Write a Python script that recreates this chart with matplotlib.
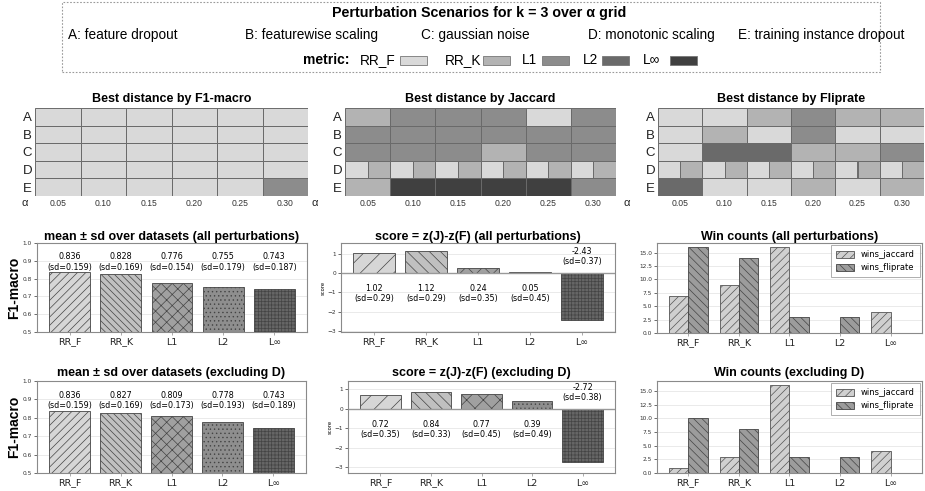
import numpy as np
import matplotlib
matplotlib.use('Agg')
import matplotlib.pyplot as plt
from matplotlib.patches import Rectangle

# ---------------- data ----------------
metrics = ['RR_F', 'RR_K', 'L1', 'L2', 'L∞']
scenario_keys = ['A', 'B', 'C', 'D', 'E']
scenario_names = ['feature dropout', 'featurewise scaling', 'gaussian noise',
                  'monotonic scaling', 'training instance dropout']
alphas = ['0.05', '0.10', '0.15', '0.20', '0.25', '0.30']

# best metric per (scenario, alpha); "X/Y" = tie drawn as split cell
best_f1 = [
    ['RR_F', 'RR_F', 'RR_F', 'RR_F', 'RR_F', 'RR_F'],
    ['RR_F', 'RR_F', 'RR_F', 'RR_F', 'RR_F', 'RR_F'],
    ['RR_F', 'RR_F', 'RR_F', 'RR_F', 'RR_F', 'RR_F'],
    ['RR_F', 'RR_F', 'RR_F', 'RR_F', 'RR_F', 'RR_F'],
    ['RR_F', 'RR_F', 'RR_F', 'RR_F', 'RR_F', 'L1'],
]
best_jaccard = [
    ['RR_K', 'L1', 'L1', 'L1', 'RR_F', 'L1'],
    ['L1', 'L1', 'L1', 'L1', 'L1', 'L1'],
    ['L1', 'L1', 'L1', 'RR_K', 'L1', 'L1'],
    ['RR_F/RR_K'] * 6,
    ['RR_K', 'L∞', 'L∞', 'L∞', 'L∞', 'L1'],
]
best_fliprate = [
    ['RR_F', 'RR_F', 'RR_K', 'L1', 'RR_K', 'RR_K'],
    ['RR_F', 'RR_K', 'RR_F', 'L1', 'RR_F', 'RR_F'],
    ['RR_F', 'L2', 'L2', 'RR_K', 'RR_K', 'L1'],
    ['RR_F/RR_K'] * 6,
    ['L2', 'RR_F', 'RR_F', 'RR_K', 'RR_F', 'RR_K'],
]

f1_mean_all = [0.836, 0.828, 0.776, 0.755, 0.743]
f1_sd_all = [0.159, 0.169, 0.154, 0.179, 0.187]
f1_mean_exD = [0.836, 0.827, 0.809, 0.778, 0.743]
f1_sd_exD = [0.159, 0.169, 0.173, 0.193, 0.189]

score_all = [1.02, 1.12, 0.24, 0.05, -2.43]
score_sd_all = [0.29, 0.29, 0.35, 0.45, 0.37]
score_exD = [0.72, 0.84, 0.77, 0.39, -2.72]
score_sd_exD = [0.35, 0.33, 0.45, 0.49, 0.38]

wins_jaccard_all = [7, 9, 16, 0, 4]
wins_fliprate_all = [16, 14, 3, 3, 0]
wins_jaccard_exD = [1, 3, 16, 0, 4]
wins_fliprate_exD = [10, 8, 3, 3, 0]

# ---------------- style ----------------
metric_colors = ['#d9d9d9', '#b3b3b3', '#8c8c8c', '#6a6a6a', '#404040']
bar_colors = ['#d6d6d6', '#c0c0c0', '#a0a0a0', '#8e8e8e', '#666666']
f1_hatches = ['////', '\\' * 5, 'xxx', '....', '+++++']
score_hatches = ['//', '\\' * 3, 'xx', '....', '+++++']

plt.rcParams['font.family'] = ['Liberation Sans', 'DejaVu Sans']
plt.rcParams['hatch.linewidth'] = 0.5

W, H = 925, 491
fig = plt.figure(figsize=(W / 100, H / 100), dpi=100)


def fx(px):
    return px / W


def fy(py):
    return 1 - py / H


def add_ax(x0, y0, x1, y1):
    return fig.add_axes([fx(x0), fy(y1), (x1 - x0) / W, (y1 - y0) / H])


# ---------------- header ----------------
fig.patches.append(Rectangle((fx(62), fy(72)), (880 - 62) / W, 70 / H,
                             transform=fig.transFigure, fill=False,
                             ec='#9a9a9a', lw=0.8, ls=(0, (1.5, 1.5))))
fig.text(fx(479), fy(13), 'Perturbation Scenarios for k = 3 over α grid',
         ha='center', va='center', fontsize=10.3, fontweight='bold')
scen_x = [68, 245, 421, 588, 738]
for k, name, xp in zip(scenario_keys, scenario_names, scen_x):
    fig.text(fx(xp), fy(35), f'{k}: {name}', ha='left', va='center', fontsize=9.8)

fig.text(fx(350), fy(60), 'metric:', ha='right', va='center', fontsize=10,
         fontweight='bold')
leg_text_x = [360, 445, 522, 583, 643]
leg_patch_x = [400, 483, 542, 602, 670]
for m, c, tx, px in zip(metrics, metric_colors, leg_text_x, leg_patch_x):
    fig.text(fx(tx), fy(60), m, ha='left', va='center', fontsize=9.8)
    fig.patches.append(Rectangle((fx(px), fy(65)), 27 / W, 9 / H,
                                 transform=fig.transFigure, fc=c,
                                 ec='#777777', lw=0.6))

# ---------------- heatmaps ----------------
heat_specs = [
    (best_f1, 'Best distance by F1-macro', (35, 108, 308, 196), 25),
    (best_jaccard, 'Best distance by Jaccard', (345, 108, 616, 196), 315),
    (best_fliprate, 'Best distance by Fliprate', (658, 108, 924, 196), 627),
]
for grid, title, box, alpha_x in heat_specs:
    ax = add_ax(*box)
    for r, row in enumerate(grid):
        for c, cell in enumerate(row):
            parts = cell.split('/')
            w = 1 / len(parts)
            for k, p in enumerate(parts):
                ax.barh(r, w, left=c + k * w, height=1,
                        color=metric_colors[metrics.index(p)],
                        edgecolor='#6a6a6a', linewidth=0.7)
    ax.set_xlim(0, len(alphas))
    ax.set_ylim(len(scenario_keys) - 0.5, -0.5)
    ax.set_xticks(np.arange(len(alphas)) + 0.5)
    ax.set_xticklabels(alphas, fontsize=6.2, color='#333333')
    ax.set_yticks(np.arange(len(scenario_keys)))
    ax.set_yticklabels(scenario_keys, fontsize=9.5, color='#222222')
    ax.tick_params(length=0, pad=2)
    for s in ax.spines.values():
        s.set_visible(False)
    ax.set_title(title, fontsize=9, fontweight='bold', pad=4)
    fig.text(fx(alpha_x), fy(203), 'α', ha='center', va='center', fontsize=8,
             color='#222222')


def style_bar_axes(ax):
    for s in ax.spines.values():
        s.set_color('#8a8a8a')
        s.set_linewidth(0.8)
    ax.set_axisbelow(True)
    ax.yaxis.grid(True, color='#e6e6e6', linewidth=0.6)
    ax.tick_params(axis='y', labelsize=4.2, length=2, width=0.5, pad=1.5,
                   colors='#333333')
    ax.tick_params(axis='x', length=2, width=0.5, pad=2, colors='#888888')
    for lab in ax.get_xticklabels():
        lab.set_color('#222222')
        lab.set_fontsize(6.8)
        lab.set_family('DejaVu Sans')
    for lab in ax.get_yticklabels():
        lab.set_family('DejaVu Sans')


def f1_panel(box, means, sds, title, title_pad):
    ax = add_ax(*box)
    x = np.arange(len(metrics))
    bars = ax.bar(x, means, 0.8, color=bar_colors, edgecolor='#444444',
                  linewidth=0.6)
    for b, h in zip(bars, f1_hatches):
        b.set_hatch(h)
    ax.set_ylim(0.5, 1.0)
    ax.set_xticks(x)
    ax.set_xticklabels(metrics)
    for i, (m, s) in enumerate(zip(means, sds)):
        ax.text(i, 0.893, f'{m:.3f}\n(sd={s:.3f})', ha='center', va='center',
                fontsize=5.8, family='DejaVu Sans', linespacing=1.2)
    style_bar_axes(ax)
    ax.set_ylabel('F1-macro', fontsize=10, fontweight='bold')
    ax.yaxis.set_label_coords(-0.06, 0.5)
    ax.set_title(title, fontsize=9, fontweight='bold', pad=title_pad)
    return ax


def score_panel(box, vals, sds, title, ylim, title_pad, lab_x):
    ax = add_ax(*box)
    x = np.arange(len(metrics))
    bars = ax.bar(x, vals, 0.8, color=bar_colors, edgecolor='#444444',
                  linewidth=0.6)
    for b, h in zip(bars, score_hatches):
        b.set_hatch(h)
    ax.axhline(0, color='#999999', linewidth=1.0, zorder=1.5)
    ax.set_ylim(*ylim)
    ax.set_yticks([-3, -2, -1, 0, 1])
    ax.set_xticks(x)
    ax.set_xticklabels(metrics)
    for i, (v, s) in enumerate(zip(vals, sds)):
        if v >= 0:
            ax.annotate(f'{v:.2f}\n(sd={s:.2f})', (i, 0), xytext=(0, -8),
                        textcoords='offset points', ha='center', va='top',
                        fontsize=5.8, family='DejaVu Sans', linespacing=1.15)
        else:
            ax.annotate(f'{v:.2f}\n(sd={s:.2f})', (i, 0), xytext=(0, 5),
                        textcoords='offset points', ha='center', va='bottom',
                        fontsize=5.8, family='DejaVu Sans', linespacing=1.15)
    style_bar_axes(ax)
    ax.set_ylabel('score', fontsize=3.8, family='DejaVu Sans')
    ax.yaxis.set_label_coords(lab_x, 0.5)
    ax.set_title(title, fontsize=9, fontweight='bold', pad=title_pad)
    return ax


def wins_panel(box, jac, flip, title, title_pad):
    ax = add_ax(*box)
    x = np.arange(len(metrics))
    w = 0.38
    ax.bar(x - w / 2, jac, w, color='#d0d0d0', edgecolor='#555555',
           linewidth=0.6, hatch='////', label='wins_jaccard')
    ax.bar(x + w / 2, flip, w, color='#9c9c9c', edgecolor='#444444',
           linewidth=0.6, hatch='\\' * 4, label='wins_fliprate')
    ax.set_ylim(0, 16.8)
    ax.set_yticks([0, 2.5, 5, 7.5, 10, 12.5, 15])
    ax.set_xticks(x)
    ax.set_xticklabels(metrics)
    style_bar_axes(ax)
    leg = ax.legend(loc='upper right', frameon=True,
                    handlelength=2.2, handleheight=0.9, borderpad=0.6,
                    labelspacing=0.5, fancybox=False, borderaxespad=0.25,
                    prop={'family': 'DejaVu Sans', 'size': 6})
    leg.get_frame().set_edgecolor('#999999')
    leg.get_frame().set_linewidth(0.7)
    ax.set_title(title, fontsize=9, fontweight='bold', pad=title_pad)
    return ax


f1_panel((37, 243, 307, 332), f1_mean_all, f1_sd_all,
         'mean ± sd over datasets (all perturbations)', 2.5)
f1_panel((37, 381, 306, 473), f1_mean_exD, f1_sd_exD,
         'mean ± sd over datasets (excluding D)', 3.5)

score_panel((341, 243, 615, 332), score_all, score_sd_all,
            'score = z(J)-z(F) (all perturbations)', (-3.05, 1.56), 2.5, -0.056)
score_panel((348, 381, 615, 473), score_exD, score_sd_exD,
            'score = z(J)-z(F) (excluding D)', (-3.31, 1.43), 3.5, -0.058)

wins_panel((657, 243, 922, 333), wins_jaccard_all, wins_fliprate_all,
           'Win counts (all perturbations)', 2.5)
wins_panel((657, 381, 922, 473), wins_jaccard_exD, wins_fliprate_exD,
           'Win counts (excluding D)', 3.5)

fig.savefig('out.png', dpi=100)
